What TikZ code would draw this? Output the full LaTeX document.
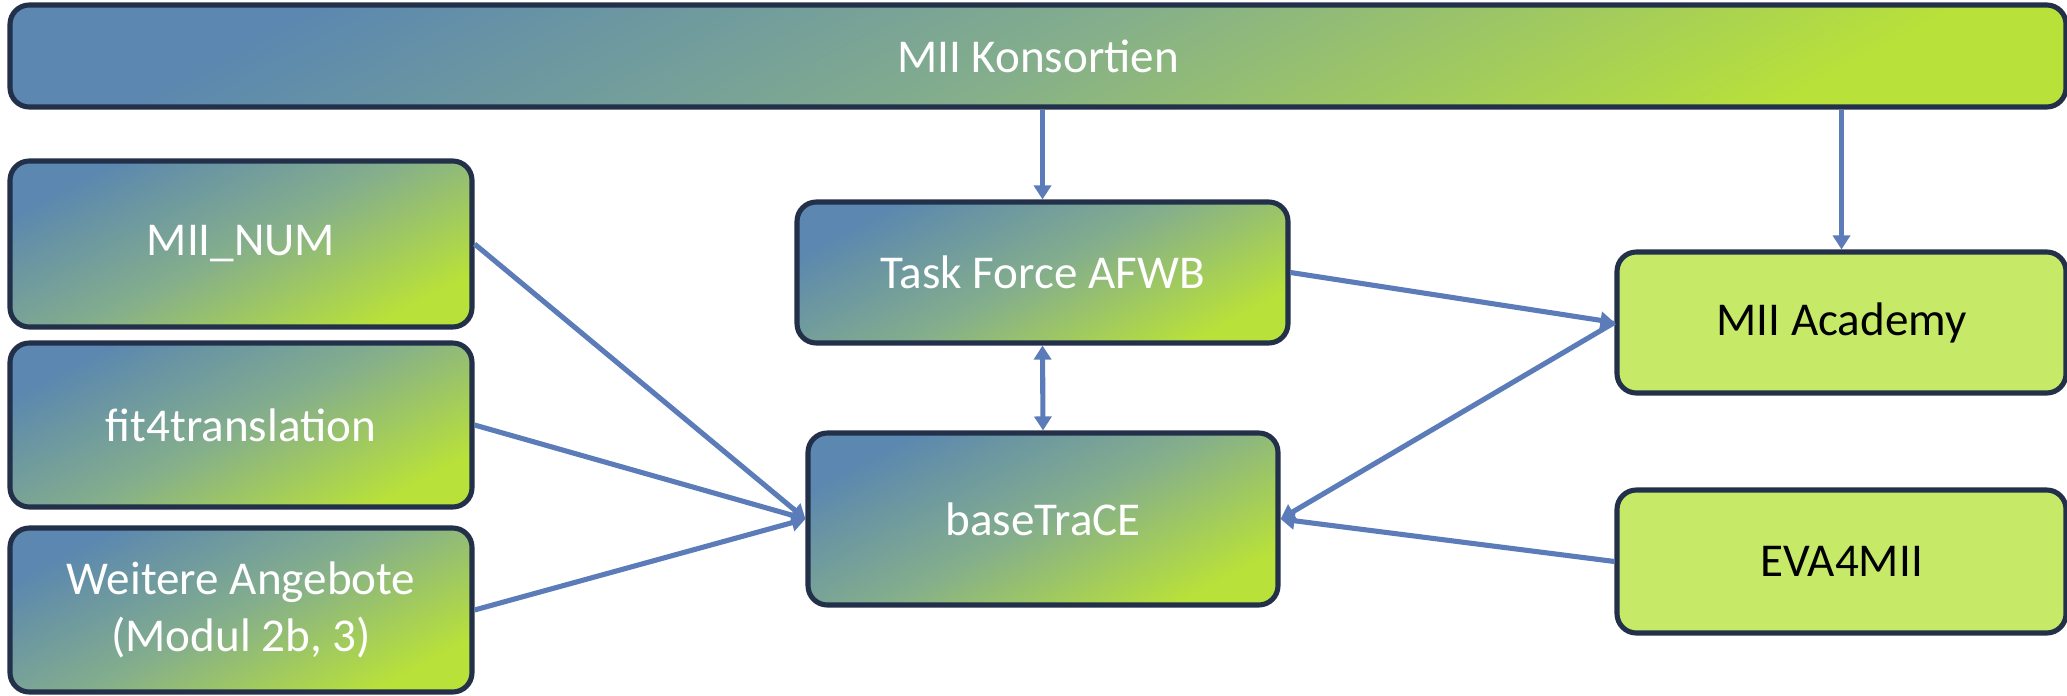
\documentclass[tikz,border=0pt]{standalone}
\usepackage{fontspec}
\setmainfont{Carlito}
\usetikzlibrary{arrows.meta,positioning}
\definecolor{konsblue}{RGB}{91,135,176}
\definecolor{konsmid}{RGB}{132,174,140}
\definecolor{konsgreen}{RGB}{184,225,58}
\definecolor{boxgreen}{RGB}{198,233,104}
\definecolor{boxline}{RGB}{35,48,74}
\definecolor{linkblue}{RGB}{91,124,185}
% blue top left, green bottom right
\pgfdeclareverticalshading{konsgrad}{100bp}{color(0bp)=(konsgreen); color(25bp)=(konsgreen); color(50bp)=(konsmid); color(75bp)=(konsblue); color(100bp)=(konsblue)}

\begin{document}
\begin{tikzpicture}[
    box/.style={draw=boxline, line width=1.45pt, rounded corners=5.5pt, align=center, inner sep=0pt, font=\fontsize{13.4}{16.2}\selectfont},
    grad box/.style={box, shading=konsgrad, shading angle=28, text=white},
    plain box/.style={box, fill=boxgreen, text=black},
    link/.style={draw=linkblue, line width=1.45pt, -{Triangle[length=1.4mm, width=1.7mm]}},
    both link/.style={link, {Triangle[length=1.4mm, width=1.7mm]}-{Triangle[length=1.4mm, width=1.7mm]}}
]

\useasboundingbox (0,0) rectangle (20.67,6.95);

% === Top bar ===
\node[grad box, minimum width=20.56cm, minimum height=1.02cm] (konsortien) at (10.38,6.39) {MII Konsortien};

% === Left column ===
\node[grad box, minimum width=4.62cm, minimum height=1.66cm] (miinum) at (2.41,4.51) {MII\_NUM};
\node[grad box, minimum width=4.62cm, minimum height=1.64cm] (fit) at (2.41,2.70) {fit4translation};
\node[grad box, minimum width=4.62cm, minimum height=1.64cm] (weitere) at (2.41,0.85) {Weitere Angebote\\(Modul 2b, 3)};

% === Middle column ===
\node[grad box, minimum width=4.91cm, minimum height=1.41cm] (taskforce) at (10.425,4.225) {Task Force AFWB};
\node[grad box, minimum width=4.70cm, minimum height=1.72cm] (basetrace) at (10.43,1.76) {baseTraCE};

% === Right column ===
\node[plain box, minimum width=4.49cm, minimum height=1.41cm] (academy) at (18.415,3.725) {MII Academy};
\node[plain box, minimum width=4.49cm, minimum height=1.43cm] (eva) at (18.415,1.335) {EVA4MII};

% === Connectors ===
\draw[link] (taskforce.north |- konsortien.south) -- (taskforce.north);
\draw[link] (academy.north |- konsortien.south) -- (academy.north);
\draw[both link] (taskforce.south) -- (basetrace.north);
\draw[link] (taskforce.east) -- (academy.west);
\draw[link] (academy.west) -- (basetrace.east);
\draw[link] (eva.west) -- (basetrace.east);
\draw[link] (miinum.east) -- (basetrace.west);
\draw[link] (fit.east) -- (basetrace.west);
\draw[link] (weitere.east) -- (basetrace.west);

\end{tikzpicture}
\end{document}
